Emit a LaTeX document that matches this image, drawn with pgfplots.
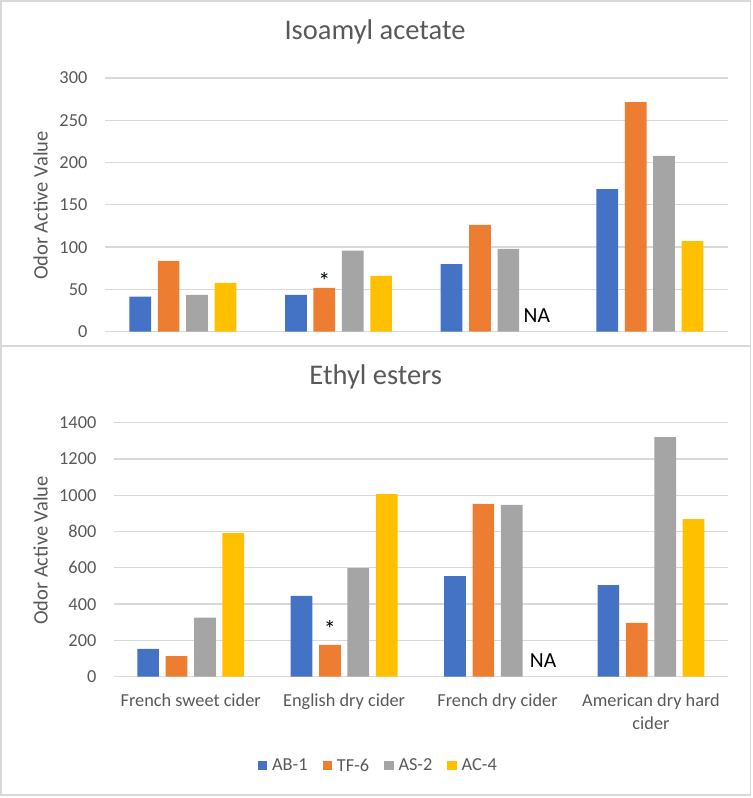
\documentclass[border=0pt]{standalone}
\usepackage{fontspec}
\setmainfont{Carlito}
\usepackage{pgfplots}
\pgfplotsset{compat=1.18}
\definecolor{cblue}{HTML}{4472C4}
\definecolor{corange}{HTML}{ED7D31}
\definecolor{cgray}{HTML}{A5A5A5}
\definecolor{cyellow}{HTML}{FFC000}
\definecolor{ctext}{HTML}{595959}
\definecolor{cgrid}{HTML}{D9D9D9}
\newcommand{\tickfont}{\fontsize{18.3bp}{23bp}\selectfont}
\newcommand{\titlefont}{\fontsize{28.5bp}{34bp}\selectfont}
\newcommand{\labfont}{\fontsize{20.5bp}{24bp}\selectfont}
\newcommand{\nafont}{\fontsize{21.5bp}{25bp}\selectfont}
\newcommand{\astfont}{\fontsize{24bp}{26bp}\selectfont}
\pgfplotsset{
  sqlegend/.style={legend image code/.code={\fill[##1] (0bp,-4.7bp) rectangle (9.4bp,4.7bp);}},
  base/.style={
    scale only axis,
    ybar=6.7bp, bar width=21.7bp,
    xmin=-0.5, xmax=3.5, ymin=0,
    xtick={0,1,2,3},
    axis line style={draw=none},
    major tick length=0pt,
    ymajorgrids,
    grid style={cgrid, line width=1.3bp},
    /pgf/number format/assume math mode=true,
    /pgf/number format/1000 sep={},
    tick label style={font=\tickfont, text=ctext},
    yticklabel style={anchor=east, inner sep=0pt, xshift=-17.5bp},
    xticklabel style={anchor=north, inner sep=0pt, yshift=-17.3bp, align=center},
    title style={font=\titlefont, text=ctext, anchor=base, inner sep=0pt},
    ylabel style={font=\labfont, text=ctext, anchor=center, inner sep=0pt},
    ylabel={Odor Active Value},
  },
}
\begin{document}
\begin{tikzpicture}
\path[use as bounding box] (0,0) rectangle (753bp,798bp);
\draw[cgrid, line width=1.5bp] (1bp,452.3bp) rectangle (750.7bp,797bp);
\draw[cgrid, line width=1.5bp] (1bp,3bp) rectangle (750.7bp,452bp);

% ---------------- Top: Isoamyl acetate ----------------
\begin{axis}[base,
  at={(105bp,466.3bp)}, anchor=south west,
  width=622.7bp, height=253.7bp,
  ymax=300, ytick={0,50,...,300},
  xticklabels={},
  title={Isoamyl acetate},
  title style={at={(axis description cs:0.4336,1.130)}},
  ylabel style={at={(axis description cs:-0.1036,0.497)}},
]
\addplot[fill=cblue, draw=none] coordinates {(0,41.4) (1,43.4) (2,80) (3,168.7)};
\addplot[fill=corange, draw=none] coordinates {(0,83.6) (1,51.7) (2,126.2) (3,271.6)};
\addplot[fill=cgray, draw=none] coordinates {(0,43.4) (1,95.8) (2,97.8) (3,207.8)};
\addplot[fill=cyellow, draw=none] coordinates {(0,57.6) (1,65.9) (3,107.2)};
\node[font=\astfont, anchor=center, xshift=-14.2bp, yshift=6.9bp] at (axis cs:1,51.7) {*};
\node[font=\nafont, anchor=base, xshift=42.7bp, yshift=8.7bp] at (axis cs:2,0) {NA};
\end{axis}

% ---------------- Bottom: Ethyl esters ----------------
\begin{axis}[base,
  at={(114bp,121.3bp)}, anchor=south west,
  width=613.7bp, height=254bp,
  ymax=1400, ytick={0,200,...,1400},
  xticklabels={French sweet cider, English dry cider, French dry cider, {American dry hard\\cider}},
  title={Ethyl esters},
  title style={at={(axis description cs:0.4264,1.126)}},
  ylabel style={at={(axis description cs:-0.1198,0.497)}},
  sqlegend,
  legend columns=4,
  legend style={at={(axis description cs:0.4290,-0.350)}, anchor=center, draw=none,
    font=\tickfont, text=ctext, inner sep=0pt,
    nodes={inner sep=0pt},
    /tikz/every odd column/.append style={column sep=5bp},
    /tikz/every even column/.append style={column sep=15bp}},
]
\addplot[fill=cblue, draw=none, sqlegend] coordinates {(0,152.7) (1,445) (2,555) (3,505)};
\addplot[fill=corange, draw=none, sqlegend] coordinates {(0,114) (1,175) (2,952) (3,296)};
\addplot[fill=cgray, draw=none, sqlegend] coordinates {(0,325) (1,599) (2,947) (3,1321)};
\addplot[fill=cyellow, draw=none, sqlegend] coordinates {(0,792) (1,1007) (3,869)};
\legend{AB-1, TF-6, AS-2, AC-4}
\node[font=\astfont, anchor=center, xshift=-14.2bp, yshift=16.3bp] at (axis cs:1,175) {*};
\node[font=\nafont, anchor=base, xshift=45.5bp, yshift=9.4bp] at (axis cs:2,0) {NA};
\end{axis}
\end{tikzpicture}
\end{document}
